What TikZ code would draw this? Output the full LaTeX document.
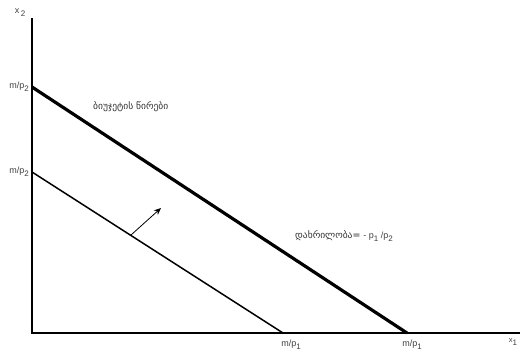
\documentclass[tikz,border=0pt]{standalone}
\usepackage{fontspec}
\setmainfont{Liberation Sans}
\newfontfamily\geo{DejaVu Sans}
\usetikzlibrary{arrows.meta}
\newcommand{\lowsub}[1]{\raisebox{-3pt}{\fontsize{8}{9}\selectfont #1}}
\begin{document}
\begin{tikzpicture}[x=1pt,y=-1pt,
  lbl/.style={inner sep=0pt,font=\fontsize{9}{10}\selectfont,text=black!75},
  geolbl/.style={inner sep=0pt,font=\geo\fontsize{9.5}{10}\selectfont,text=black!80}]
\useasboundingbox (0,0) rectangle (525,351);
\coordinate (O) at (32,333);
\coordinate (Ytop) at (32,18);
\coordinate (Xend) at (520,333);
\draw[line width=2pt] (Ytop) -- (O) -- (Xend);
\coordinate (A1) at (32,87);
\coordinate (B1) at (407,333);
\coordinate (A2) at (32,172);
\coordinate (B2) at (283,333);
\draw[line width=3.2pt] (A1) -- (B1);
\draw[line width=1.5pt] (A2) -- (B2);
\coordinate (S) at (131,235);
\coordinate (T) at (161,208);
\draw[line width=0.8pt,-{Stealth[length=7pt,width=6pt]}] (S) -- (T);
\node[lbl] (x2) at (20,13) {x\,\lowsub{2}};
\node[lbl,anchor=east] (m2a) at (29,87) {m/p\lowsub{2}};
\node[lbl,anchor=east] (m2b) at (29,172) {m/p\lowsub{2}};
\node[lbl] (m1a) at (291,345) {m/p\lowsub{1}};
\node[lbl] (m1b) at (412,345) {m/p\lowsub{1}};
\node[lbl] (x1) at (513,342) {\fontsize{7.5}{8}\selectfont x\lowsub{1}};
\node[geolbl,anchor=west] (bl) at (93,107) {ბიუჯეტის წირები};
\node[anchor=west,inner sep=0pt] (sl) at (295,236) {{\geo\fontsize{9.5}{10}\selectfont\color{black!80}დახრილობა=} {\fontsize{9}{10}\selectfont\color{black!75}- p\lowsub{1} /p\lowsub{2}}};
\end{tikzpicture}
\end{document}
